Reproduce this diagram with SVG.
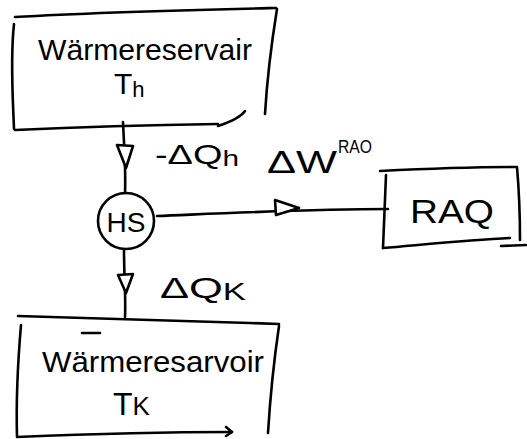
<svg xmlns="http://www.w3.org/2000/svg" width="527" height="439" viewBox="0 0 527 439">
  <style>
    .ink { fill: none; stroke: #000; stroke-width: 2.6; stroke-linecap: round; stroke-linejoin: round; }
    .head { fill: #fff; stroke: #000; stroke-width: 2.6; stroke-linejoin: round; }
    .lbl { font-family: "Liberation Sans", "DejaVu Sans", sans-serif; fill: #000; }
  </style>
  <rect width="527" height="439" fill="#fff"/>

  <!-- connectors -->
  <g id="connectors">
    <path class="ink" d="M123,122 C124,145 126,170 125,193"/>
    <path class="head" d="M117,145 L133,146 L126,168 Z"/>
    <path class="ink" d="M124,250 C124,275 126,300 125,317"/>
    <path class="head" d="M118,275 L133,274 L126,293 Z"/>
    <path class="ink" d="M157,216 C230,213 310,209 388,209"/>
    <path class="head" d="M275,200 L299,208 L276,215 Z"/>
  </g>

  <!-- hot reservoir -->
  <g id="reservoir-hot">
    <path class="ink" d="M15,17 C100,12 190,10 276,8"/>
    <path class="ink" d="M14,24 C10,60 13,100 14,129"/>
    <path class="ink" d="M15,130 C80,127 150,125 218,124"/>
    <path class="ink" d="M218,126 C230,122 240,118 245,111"/>
    <path class="ink" d="M277,9 C272,40 267,80 265,114"/>
    <text class="lbl" x="38" y="60" font-size="30" textLength="214" lengthAdjust="spacingAndGlyphs">Wärmereservair</text>
    <text class="lbl" x="114" y="94" font-size="30">T<tspan font-size="22" dy="3">h</tspan></text>
  </g>

  <!-- heat engine -->
  <g id="engine">
    <circle class="ink" cx="126" cy="221" r="28"/>
    <text class="lbl" x="126" y="232" font-size="28" text-anchor="middle">HS</text>
  </g>

  <!-- machine -->
  <g id="raq">
    <path class="ink" d="M380,171 C420,169 470,167 516,167"/>
    <path class="ink" d="M386,175 C385,200 384,225 383,248"/>
    <path class="ink" d="M383,248 C430,244 470,240 510,238"/>
    <path class="ink" d="M517,167 C519,190 520,215 520,240"/>
    <path class="ink" d="M501,246 L526,245"/>
    <text class="lbl" x="410" y="223" font-size="34" textLength="84" lengthAdjust="spacingAndGlyphs">RAQ</text>
  </g>

  <!-- cold reservoir -->
  <g id="reservoir-cold">
    <path class="ink" d="M18,316 C100,318 190,321 279,324"/>
    <path class="ink" d="M21,325 C18,360 16,400 17,436"/>
    <path class="ink" d="M17,437 C90,434 160,432 232,432"/>
    <path class="ink" d="M226,427 L232,432 L226,436"/>
    <path class="ink" d="M279,326 C274,360 270,400 268,433"/>
    <path class="ink" d="M82,333 L100,333"/>
    <text class="lbl" x="42" y="372" font-size="30" textLength="222" lengthAdjust="spacingAndGlyphs">Wärmeresarvoir</text>
    <text class="lbl" x="113" y="415" font-size="32">T<tspan font-size="26">K</tspan></text>
  </g>

  <!-- flow labels -->
  <g id="labels">
    <text class="lbl" x="155" y="164" font-size="28" textLength="84" lengthAdjust="spacingAndGlyphs">-ΔQ<tspan font-size="22" dy="2">h</tspan></text>
    <text class="lbl" x="267" y="173" font-size="32" textLength="70" lengthAdjust="spacingAndGlyphs">ΔW</text>
    <text class="lbl" x="338" y="153" font-size="18" textLength="34" lengthAdjust="spacingAndGlyphs">RAO</text>
    <text class="lbl" x="160" y="298" font-size="30" textLength="86" lengthAdjust="spacingAndGlyphs">ΔQ<tspan font-size="24" dy="2">K</tspan></text>
  </g>
</svg>
